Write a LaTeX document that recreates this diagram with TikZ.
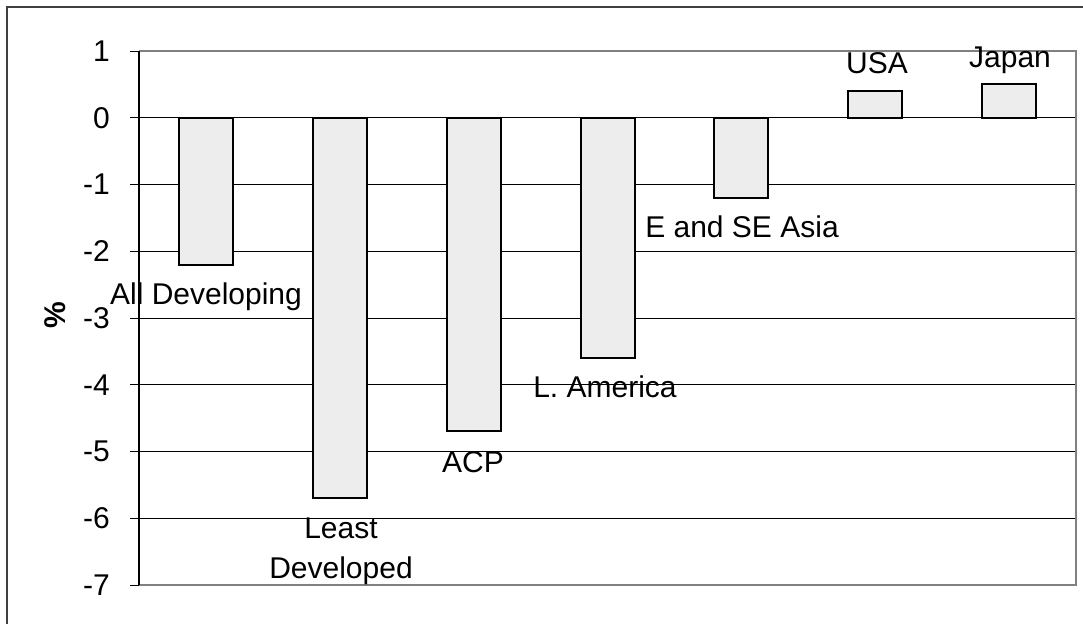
\documentclass[tikz,border=0pt]{standalone}
\usepackage{fontspec}
\setmainfont{Liberation Sans}
\begin{document}
\begin{tikzpicture}[x=1pt,y=-1pt,
  lbl/.style={font=\fontsize{30}{36}\selectfont, inner sep=0pt, anchor=base},
  ticklbl/.style={font=\fontsize{30}{36}\selectfont, inner sep=0pt, anchor=east},
  barbox/.style={draw=black, line width=2pt, fill=black!7},
  grid/.style={draw=black, line width=1pt},
  frameline/.style={draw=black!50, line width=1.5pt}]
\useasboundingbox (0,0) rectangle (1083,624);
\fill[white] (0,0) rectangle (1083,624);
% outer chart border
\draw[black!75, line width=1.5pt] (7,624) -- (7,7) -- (1083,7);
\begin{scope}[shift={(139,117.75)}, x=133.857pt, y=66.75pt]
  % gridlines
  \foreach \v in {0,-1,-2,-3,-4,-5,-6} { \draw[grid] (0,\v) -- (7,\v); }
  \draw[frameline] (0,1) -- (7,1) -- (7,-7) -- (0,-7);
  % ticks
  \foreach \v in {1,0,-1,-2,-3,-4,-5,-6,-7} {
    \draw[black, line width=1pt] (-0.0672,\v) -- (0,\v);
    \node[ticklbl] (t\v) at ([xshift=-29pt]0,\v) {\v};
  }
  % bars
  \foreach \i/\val in {0/-2.2,1/-5.7,2/-4.7,3/-3.6,4/-1.2,5/0.4,6/0.5} {
    \draw[barbox] (\i+0.5-0.2017,0) rectangle (\i+0.5+0.2017,\val);
  }
  \draw[black, line width=1.5pt] (0,1) -- (0,-7);
\end{scope}
% category labels
\node[lbl] (alldev) at (206,304) {All Developing};
\node[lbl] (least) at (341,538) {Least};
\node[lbl] (leastdev) at (341,578) {Developed};
\node[lbl] (acp) at (473,472) {ACP};
\node[lbl] (lam) at (605,397) {L. America};
\node[lbl] (esea) at (742,237) {E and SE Asia};
\node[lbl] (usa) at (877,73) {USA};
\node[lbl] (japan) at (1010,67) {Japan};
% axis title
\node[font=\fontsize{30}{36}\selectfont\bfseries, inner sep=0pt, rotate=90] (pct) at (55,315) {\%};
\end{tikzpicture}
\end{document}
